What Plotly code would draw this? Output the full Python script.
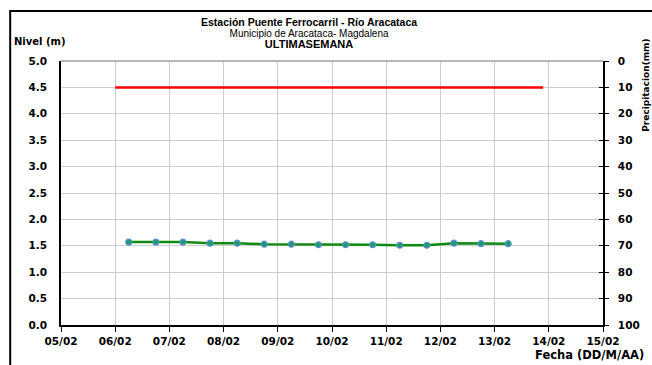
import plotly.graph_objects as go

# Data
level_times = ["2024-02-06 06:00", "2024-02-06 18:00", "2024-02-07 06:00", "2024-02-07 18:00",
               "2024-02-08 06:00", "2024-02-08 18:00", "2024-02-09 06:00", "2024-02-09 18:00",
               "2024-02-10 06:00", "2024-02-10 18:00", "2024-02-11 06:00", "2024-02-11 18:00",
               "2024-02-12 06:00", "2024-02-12 18:00", "2024-02-13 06:00"]
level_values = [1.57, 1.57, 1.57, 1.55, 1.55, 1.53, 1.53, 1.52, 1.52, 1.52, 1.51, 1.51, 1.55, 1.54, 1.54]

alert_times = ["2024-02-06 00:00", "2024-02-13 21:30"]
alert_values = [4.5, 4.5]

x_range = ["2024-02-05", "2024-02-15"]
y_ticks = [0, 0.5, 1, 1.5, 2, 2.5, 3, 3.5, 4, 4.5, 5]
y2_ticks = [0, 10, 20, 30, 40, 50, 60, 70, 80, 90, 100]

title_lines = ["Estación Puente Ferrocarril - Río Aracataca",
               "Municipio de Aracataca- Magdalena",
               "ULTIMASEMANA"]

FONT = "Liberation Sans, Arial, sans-serif"
WFONT = "DejaVu Sans, Verdana, sans-serif"

fig = go.Figure()
fig.add_trace(go.Scatter(x=alert_times, y=alert_values, mode="lines",
                         line=dict(color="#ff0000", width=2.5), showlegend=False))
fig.add_trace(go.Scatter(x=level_times, y=level_values, mode="lines+markers",
                         line=dict(color="#108a10", width=2.5),
                         marker=dict(size=6, color="#1e9a70", line=dict(color="#5a8fcf", width=1.2)),
                         showlegend=False))
# invisible traces to activate secondary axes
fig.add_trace(go.Scatter(x=[x_range[0]], y=[None], yaxis="y2", showlegend=False, hoverinfo="skip"))
fig.add_trace(go.Scatter(x=[x_range[0]], y=[None], yaxis="y3", showlegend=False, hoverinfo="skip"))

tickfont = dict(family=WFONT, size=10.5, color="black", weight="bold")

fig.update_layout(
    width=652, height=365,
    margin=dict(l=61, r=47, t=61, b=40),
    paper_bgcolor="white", plot_bgcolor="white",
    font=dict(family=FONT, color="black"),
    xaxis=dict(type="date", range=x_range, dtick=86400000, tickformat="%d/%m",
               showgrid=True, gridcolor="#cccccc", gridwidth=1,
               showline=True, linecolor="black", linewidth=1.5,
               ticks="outside", ticklen=5, tickcolor="black",
               tickfont=tickfont, ticklabelstandoff=1, zeroline=False),
    yaxis=dict(range=[0, 5], tickvals=y_ticks, tickformat=".1f",
               showgrid=True, gridcolor="#cccccc", gridwidth=1,
               showline=True, linecolor="black", linewidth=1.5,
               ticks="", tickfont=tickfont, ticklabelstandoff=10, zeroline=False),
    yaxis2=dict(range=[100, 0], tickvals=y2_ticks, overlaying="y", side="right",
                showgrid=False, showline=True, linecolor="black", linewidth=1.5,
                ticks="outside", ticklen=4, tickcolor="black",
                tickfont=tickfont, ticklabelstandoff=7, zeroline=False),
    yaxis3=dict(range=[100, 0], tickvals=y2_ticks, overlaying="y", side="right", anchor="x",
                showgrid=False, showline=False, showticklabels=False,
                ticks="inside", ticklen=4, tickcolor="black", zeroline=False),
)

# top border of plot area (darker grid line)
fig.add_shape(type="line", xref="paper", yref="paper", x0=0, x1=1, y0=1, y1=1,
              line=dict(color="#a0a0a0", width=1.5))

# outer frame
fig.add_shape(type="rect", xref="paper", yref="paper",
              x0=-51/544, x1=1.2, y0=-0.3, y1=1 + 50/264,
              line=dict(color="black", width=2), layer="above")

def py(pix):
    return 1 - (pix - 61) / 264

def px(pix):
    return (pix - 61) / 544

title_text = (f"<b><span style='font-size:10.5px'>{title_lines[0]}</span></b><br>"
              f"<span style='font-size:10px'>{title_lines[1]}</span><br>"
              f"<b><span style='font-size:11px'>{title_lines[2]}</span></b>")
fig.add_annotation(xref="paper", yref="paper", x=px(309.5), y=py(32.5),
                   text=title_text, showarrow=False, borderpad=0,
                   font=dict(family=FONT, size=8.5, color="black"),
                   xanchor="center", yanchor="middle", align="center")
fig.add_annotation(xref="paper", yref="paper", x=px(12), y=py(41),
                   text="<b>Nivel (m)</b>", showarrow=False,
                   font=dict(family=WFONT, size=10, color="black"), xanchor="left", yanchor="middle")
fig.add_annotation(xref="paper", yref="paper", x=px(648), y=py(355),
                   text="<b>Fecha (DD/M/AA)</b>", showarrow=False,
                   font=dict(family=WFONT, size=11.5, color="black"), xanchor="right", yanchor="middle")
fig.add_annotation(xref="paper", yref="paper", x=px(648), y=py(85),
                   text="<b>Precipitacion(mm)</b>", showarrow=False, textangle=-90,
                   font=dict(family=WFONT, size=9, color="black"), xanchor="center", yanchor="middle")

fig.write_html("out.html", config={"displayModeBar": False},
               post_script="document.body.style.margin='0px';document.body.style.overflow='hidden';")
